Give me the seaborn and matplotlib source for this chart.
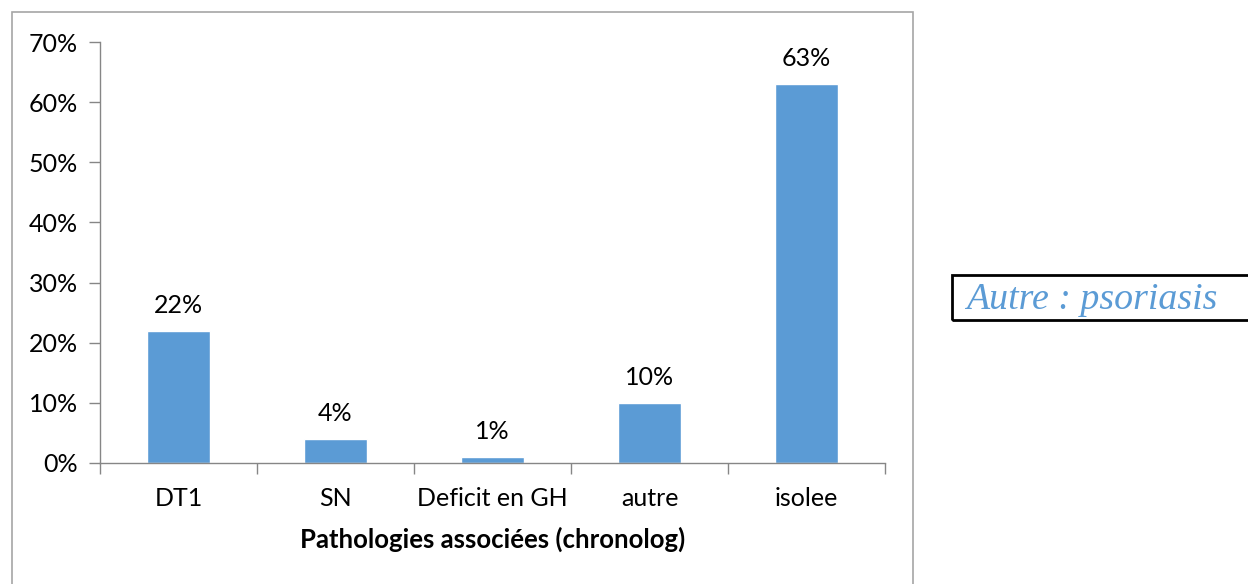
import matplotlib
matplotlib.use("Agg")
import matplotlib.pyplot as plt
import seaborn as sns
import pandas as pd
from matplotlib.patches import Rectangle
from matplotlib.ticker import FuncFormatter

categories = ["DT1", "SN", "Deficit en GH", "autre", "isolee"]
values = [22, 4, 1, 10, 63]
yticks = [0, 10, 20, 30, 40, 50, 60, 70]
xlabel = "Pathologies associées (chronolog)"
note = "Autre : psoriasis"

sns.set_theme(style="white")
plt.rcParams["font.family"] = ["Lato", "DejaVu Sans"]

bar_color = "#5b9bd5"
axis_color = "#868686"

df = pd.DataFrame({"cat": categories, "val": values})

fig = plt.figure(figsize=(12.48, 5.84), dpi=100)
ax = fig.add_axes([100 / 1248, 1 - 463 / 584, 785 / 1248, 421 / 584])

sns.barplot(data=df, x="cat", y="val", color=bar_color, width=0.4,
            saturation=1, ax=ax)

ax.set_ylim(0, 70)
ax.set_xlim(-0.5, len(categories) - 0.5)
ax.set_yticks(yticks)
ax.yaxis.set_major_formatter(FuncFormatter(lambda v, p: f"{int(v)}%"))

for s in ["top", "right"]:
    ax.spines[s].set_visible(False)
for s in ["left", "bottom"]:
    ax.spines[s].set_color(axis_color)
    ax.spines[s].set_linewidth(1.0)

ax.tick_params(axis="y", which="major", length=8, width=1, color=axis_color,
               labelsize=18, pad=8, left=True, labelcolor="black")
ax.tick_params(axis="x", which="major", length=0, labelsize=18, pad=17,
               labelcolor="black")
# tick marks between categories on the x axis
ax.set_xticks([i - 0.5 for i in range(len(categories) + 1)], minor=True)
ax.tick_params(axis="x", which="minor", length=8, width=1, color=axis_color,
               bottom=True)

ax.set_xlabel(xlabel, fontsize=18.5, fontweight="bold", labelpad=12,
              color="black")
ax.set_ylabel("")

for i, v in enumerate(values):
    ax.annotate(f"{v}%", (i, v), xytext=(0, 10), textcoords="offset points",
                ha="center", va="bottom", fontsize=18, color="black")

# chart frame
fig.patches.append(Rectangle((12 / 1248, -0.05), (913 - 12) / 1248,
                             (584 - 12) / 584 + 0.05,
                             transform=fig.transFigure, fill=False,
                             edgecolor="#a6a6a6", linewidth=1.2))

# note box
fig.patches.append(Rectangle((952 / 1248, 1 - 320 / 584), (1250 - 952) / 1248,
                             45 / 584, transform=fig.transFigure, fill=False,
                             edgecolor="black", linewidth=2))
fig.text(966 / 1248, 1 - 300 / 584, note, fontsize=27.3, style="italic",
         family="Liberation Serif", color=bar_color, va="center", ha="left")

fig.savefig("out.png", dpi=100)
